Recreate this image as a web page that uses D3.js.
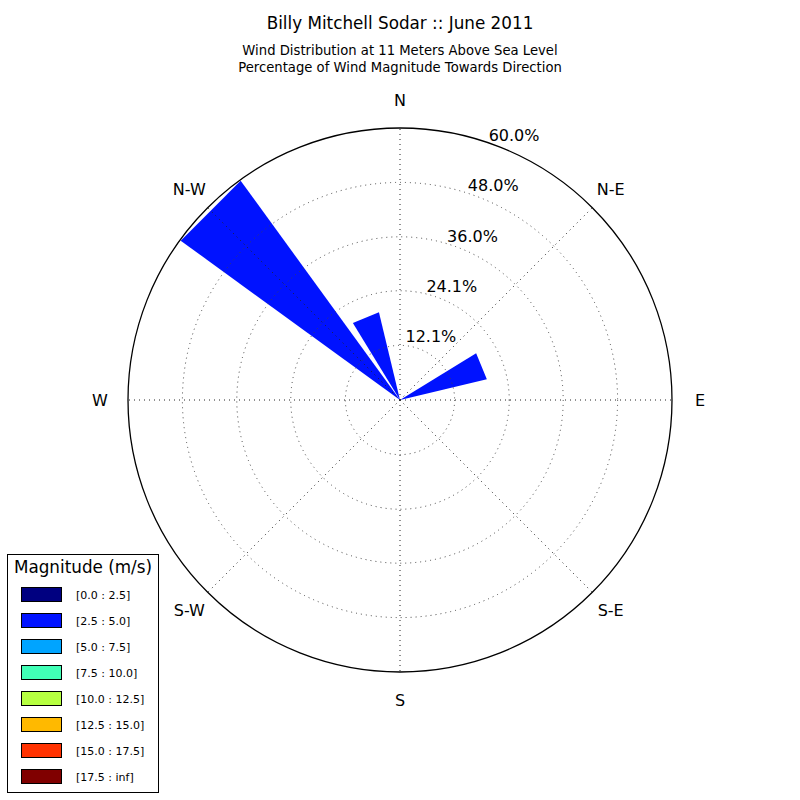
<!DOCTYPE html>
<html><head><meta charset="utf-8">
<script src="https://cdn.jsdelivr.net/npm/d3@7"></script>
<style>body{margin:0;background:#fff}svg{font-family:"DejaVu Sans",sans-serif}</style>
</head><body><svg id="c" width="800" height="800"></svg>
<script>
const title = "Billy Mitchell Sodar :: June 2011";
const subtitle1 = "Wind Distribution at 11 Meters Above Sea Level";
const subtitle2 = "Percentage of Wind Magnitude Towards Direction";
const directions = ["N","NNE","NE","ENE","E","ESE","SE","SSE","S","SSW","SW","WSW","W","WNW","NW","NNW"];
const binLabels = ["[0.0 : 2.5]","[2.5 : 5.0]","[5.0 : 7.5]","[7.5 : 10.0]","[10.0 : 12.5]","[12.5 : 15.0]","[15.0 : 17.5]","[17.5 : inf]"];
const binColors = ["#000080","#0012ff","#00a4ff","#41ffb6","#b6ff41","#ffb900","#ff3200","#800000"];
// percentage per direction for bin [2.5 : 5.0] (other bins are 0)
const bin1Values = [0,0,0,19.7,0,0,0,0,0,0,0,0,0,0,59.8,19.9];
const rTickValues = [12.05,24.1,36.0,48.0,60.0];
const rTickLabels = ["12.1%","24.1%","36.0%","48.0%","60.0%"];
const compassLabels = ["N","N-E","E","S-E","S","S-W","W","N-W"];

const svg = d3.select("#c");
const cx = 400, cy = 400, R = 272;
const r = d3.scaleLinear().domain([0, 60.0]).range([0, R]);
const ang = d3.scaleLinear().domain([0, 16]).range([0, 360]);
const pt = (deg, rad) => [cx + rad*Math.sin(deg*Math.PI/180), cy - rad*Math.cos(deg*Math.PI/180)];

// bars (straight-topped wedges, width 0.8 of sector)
const g = svg.append("g");
bin1Values.forEach((v, i) => {
  if (v <= 0) return;
  const c = ang(i), hw = 0.4*ang(1);
  const p1 = pt(c-hw, r(v)), p2 = pt(c+hw, r(v));
  g.append("path").attr("d", `M${cx},${cy}L${p1[0]},${p1[1]}L${p2[0]},${p2[1]}Z`)
   .attr("fill", binColors[1]);
});

// grid circles
rTickValues.slice(0, -1).forEach(v => {
  svg.append("circle").attr("cx", cx).attr("cy", cy).attr("r", r(v))
    .attr("fill", "none").attr("stroke", "#444").attr("stroke-width", 1).attr("stroke-dasharray", "1,4");
});
// spokes
for (let k = 0; k < 8; k++) {
  const p = pt(k*45, R);
  svg.append("line").attr("x1", cx).attr("y1", cy).attr("x2", p[0]).attr("y2", p[1])
    .attr("stroke", "#222").attr("stroke-width", 1).attr("stroke-dasharray", "1,4");
}
// outer circle
svg.append("circle").attr("cx", cx).attr("cy", cy).attr("r", R)
  .attr("fill", "none").attr("stroke", "#000").attr("stroke-width", 1.3);

// compass labels
compassLabels.forEach((t, k) => {
  const rr = (k % 2 === 1) ? R + 26 : R + 28;
  const q = pt(k*45, rr);
  svg.append("text").attr("x", q[0]).attr("y", q[1]).attr("text-anchor", "middle")
    .attr("dominant-baseline", "central").attr("font-size", 16).text(t);
});

// radial labels
rTickValues.forEach((v, i) => {
  const p = pt(22.5, r(v));
  svg.append("text").attr("x", p[0] + 10).attr("y", p[1] - 13).attr("text-anchor", "middle")
    .attr("dominant-baseline", "central").attr("font-size", 16).text(rTickLabels[i]);
});

// titles
svg.append("text").attr("x", 400).attr("y", 29).attr("text-anchor", "middle").attr("font-size", 16.8).text(title);
svg.append("text").attr("x", 400).attr("y", 55).attr("text-anchor", "middle").attr("font-size", 13.2).text(subtitle1);
svg.append("text").attr("x", 400).attr("y", 72).attr("text-anchor", "middle").attr("font-size", 13.2).text(subtitle2);

// legend
const lg = svg.append("g");
lg.append("rect").attr("x", 7.5).attr("y", 554.5).attr("width", 151).attr("height", 238)
  .attr("fill", "#fff").attr("stroke", "#000").attr("stroke-width", 1);
lg.append("text").attr("x", 83).attr("y", 573).attr("text-anchor", "middle").attr("font-size", 16.8).text("Magnitude (m/s)");
binLabels.forEach((t, i) => {
  const y = 587 + i*26;
  lg.append("rect").attr("x", 21.5).attr("y", y + 0.5).attr("width", 40).attr("height", 14)
    .attr("fill", binColors[i]).attr("stroke", "#000").attr("stroke-width", 1);
  lg.append("text").attr("x", 76).attr("y", y + 11.5).attr("font-size", 11).text(t);
});
</script></body></html>
